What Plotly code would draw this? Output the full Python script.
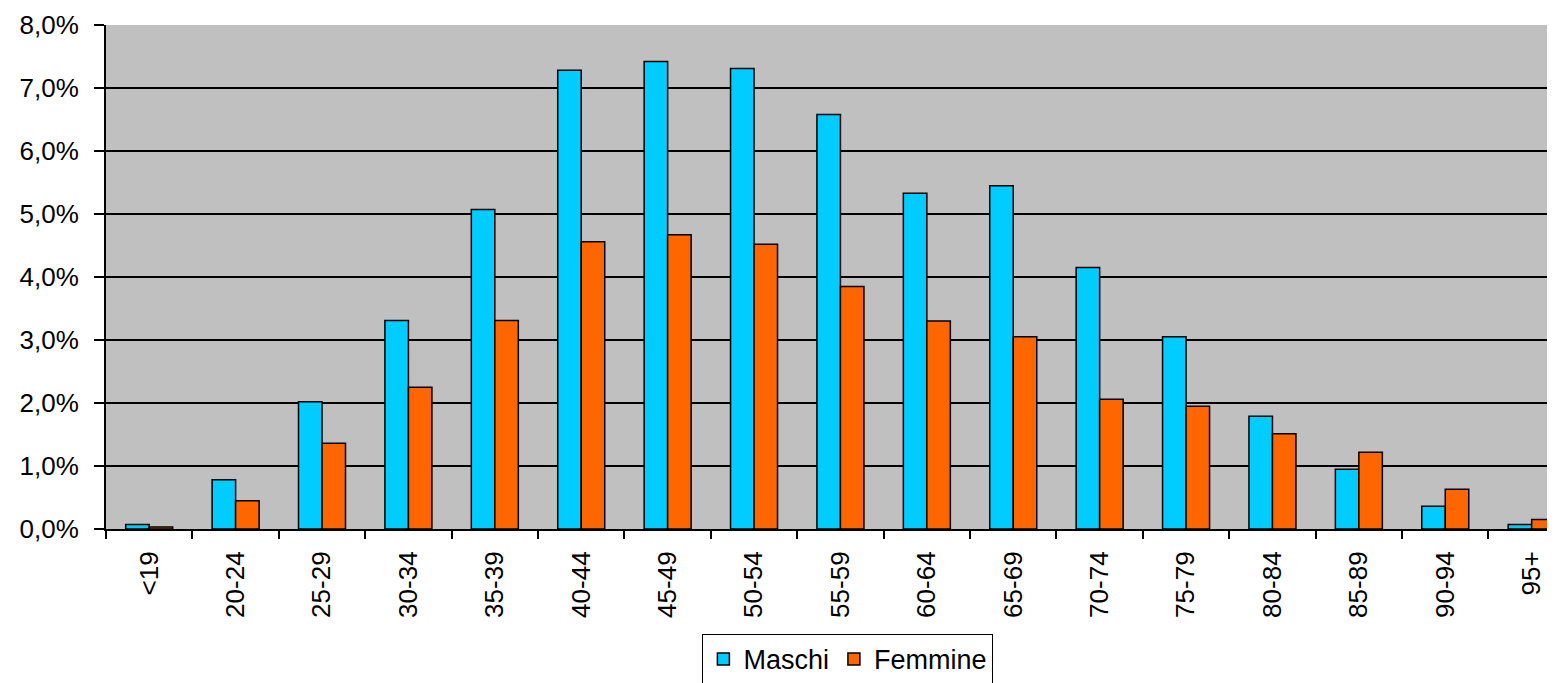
import plotly.graph_objects as go

categories = ["<19", "20-24", "25-29", "30-34", "35-39", "40-44", "45-49", "50-54",
              "55-59", "60-64", "65-69", "70-74", "75-79", "80-84", "85-89", "90-94", "95+"]
maschi = [0.07, 0.78, 2.02, 3.31, 5.07, 7.28, 7.42, 7.31, 6.58, 5.33, 5.45, 4.15, 3.05, 1.79, 0.95, 0.36, 0.07]
femmine = [0.03, 0.45, 1.36, 2.25, 3.31, 4.56, 4.67, 4.52, 3.85, 3.30, 3.05, 2.06, 1.95, 1.51, 1.22, 0.63, 0.15]
y_ticks = [0, 1, 2, 3, 4, 5, 6, 7, 8]
y_tick_labels = ["0,0%", "1,0%", "2,0%", "3,0%", "4,0%", "5,0%", "6,0%", "7,0%", "8,0%"]

FONT = "Liberation Sans, Arial, sans-serif"

fig = go.Figure()
fig.add_trace(go.Bar(x=categories, y=maschi, name="Maschi",
                     marker=dict(color="#00CCFF", line=dict(color="black", width=1.5))))
fig.add_trace(go.Bar(x=categories, y=femmine, name="Femmine",
                     marker=dict(color="#FF6600", line=dict(color="black", width=1.5))))

# page body has an 8px margin, so the figure is sized/offset to compensate
fig.update_layout(
    width=1547, height=675,
    margin=dict(l=98, r=0, t=17, b=154, autoexpand=False),
    paper_bgcolor="white",
    plot_bgcolor="#C0C0C0",
    separators=",.",
    barmode="group",
    bargap=0.456,
    bargroupgap=0,
    font=dict(family=FONT, size=24, color="black"),
    legend=dict(orientation="h", x=0.512, xanchor="center", y=-0.208, yanchor="top",
                bordercolor="black", borderwidth=1, bgcolor="white",
                font=dict(family=FONT, size=27, color="black"),
                tracegroupgap=0),
)
fig.update_xaxes(
    type="category",
    range=[-0.5, 16.27],
    tickangle=-90,
    ticks="outside", tickson="boundaries", ticklen=8, tickcolor="black", tickwidth=2,
    ticklabelstandoff=10,
    showline=True, linecolor="black", linewidth=2,
    showgrid=False,
    automargin=False,
    tickfont=dict(family=FONT, size=26, color="black"),
)
fig.update_yaxes(
    range=[0, 8],
    tickvals=y_ticks,
    ticktext=y_tick_labels,
    ticks="outside", ticklen=10, tickcolor="black", tickwidth=2,
    ticklabelstandoff=10,
    showline=True, linecolor="black", linewidth=2,
    showgrid=True, gridcolor="black", gridwidth=1.5,
    zeroline=False,
    automargin=False,
    tickfont=dict(family=FONT, size=26, color="black"),
)

fig.write_html("out.html")
